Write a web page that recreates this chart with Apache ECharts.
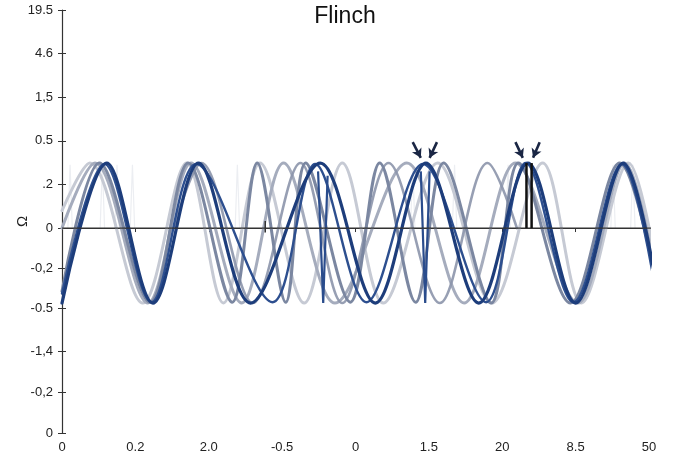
<!DOCTYPE html>
<html><head><meta charset="utf-8">
<script src="https://cdn.jsdelivr.net/npm/echarts@6/dist/echarts.min.js"></script>
<style>html,body{margin:0;padding:0;background:#fff}#c{width:690px;height:460px}</style>
</head><body><div id="c"></div>
<script>
const titleText = 'Flinch';
const yName = 'Ω';
const xLabels = ['0','0.2','2.0','-0.5','0','1.5','20','8.5','50'];
const yTickPos = [-4.7,-3.76,-2.82,-1.84,-0.92,0,1,2,3,4,5];
const yLabels = ['0','-0,2','-1,4','-0.5','-0,2','0','.2','0.5','1,5','4.6','19.5'];

// peaks / troughs
const darkA = [[0,-1.72],[0.61,1.49],[1.24,-1.72],[1.86,1.49],[2.57,-1.72],[3.52,1.49],[4.27,-1.72],[4.96,1.49],[5.68,-1.72],[6.35,1.49],[7.0,-1.72],[7.65,1.49],[8.1,-1.31]];
const darkB = [[0,-1.5],[0.58,1.47],[1.22,-1.7],[1.83,1.47],[2.87,-1.7],[3.45,1.47],[4.15,-1.7],[4.92,1.47],[5.78,-1.7],[6.32,1.49],[6.97,-1.7],[7.63,1.47],[8.08,-1.35]];
const slateC = [[0,-1.45],[0.51,1.49],[1.2,-1.7],[1.72,1.49],[2.32,-1.7],[2.66,1.49],[3.05,-1.7],[3.32,1.49],[3.93,-1.7],[4.33,1.49],[4.82,-1.7],[5.2,1.49],[5.85,-1.72],[6.22,1.49],[6.93,-1.72],[7.6,1.49],[8.1,-1.25]];
const grayD = [[0,0],[0.45,1.49],[1.17,-1.72],[1.76,1.49],[2.45,-1.72],[3.02,1.49],[3.72,-1.72],[4.7,1.49],[5.48,-1.72],[6.18,1.49],[7.03,-1.72],[7.67,1.49],[8.1,-1.2]];
const lightE = [[0,0.4],[0.38,1.49],[1.1,-1.72],[1.7,1.49],[2.2,-1.72],[2.7,1.49],[3.3,-1.72],[3.82,1.49],[4.38,-1.72],[5.12,1.49],[5.86,-1.72],[6.55,1.49],[7.08,-1.72],[7.72,1.49],[8.1,-0.9]];
const slateF = [[1.52,0],[1.9,1.49],[2.6,-1.72],[3.25,1.49],[3.82,-1.72],[4.45,1.49],[5.15,-1.72],[5.8,1.49],[6.2,0]];
const faintSpikes = [
  [[0.08,0],[0.11,1.45],[0.14,0]],
  [[0.52,0],[0.55,1.45],[0.58,0]],
  [[0.72,0],[0.75,1.45],[0.78,0]],
  [[0.93,0],[0.96,1.45],[0.99,0]],
  [[2.36,0],[2.39,1.45],[2.42,0]],
  [[4.75,0],[4.78,1.45],[4.81,0]],
  [[5.32,0],[5.35,1.45],[5.38,0]],
  [[6.05,0],[6.08,1.45],[6.11,0]],
  [[7.48,0],[7.51,1.45],[7.54,0]],
  [[7.75,0],[7.78,1.45],[7.81,0]]
];
const darkSpikes = [
  [[3.49,1.3],[3.56,-1.72],[3.62,1.2]],
  [[4.89,1.3],[4.95,-1.72],[5.01,1.3]]
];
const blackBars = [
  [[6.33,0],[6.33,1.49]],
  [[6.40,0],[6.40,1.49]]
];
const smallTick = [[2.77,0.16],[2.77,-0.1]];
const zeroLine = [[0,0],[8.1,0]];
const zeroTail = [[8.1,0],[8.28,0]];
const arrowStarts = [[4.78,1.97],[5.11,1.97],[6.18,1.97],[6.51,1.97]];
const arrowEnds = [[4.89,1.61],[5.01,1.61],[6.28,1.61],[6.42,1.61]];

const FONT = 'Liberation Sans, Arial, sans-serif';
function curve(data, color, width, z, opacity){
  return {type:'line', data, smooth:0.34, showSymbol:false, symbol:'none', clip:false, z,
    lineStyle:{color, width, opacity: opacity==null?1:opacity, cap:'round'}, silent:true};
}
function seg(data, color, width, z){
  return {type:'line', data, smooth:false, showSymbol:false, symbol:'none', clip:false, z,
    lineStyle:{color, width}, silent:true};
}
const series = [];
faintSpikes.forEach(d => series.push(seg(d, '#eceef2', 1.2, 1)));
series.push(curve(lightE, '#c6cad4', 3, 2));
series.push(curve(grayD, '#a5acbd', 3, 3));
series.push(curve(slateF, '#8c95ab', 2.6, 4, 0.9));
series.push(curve(slateC, '#7b87a1', 3, 5));
series.push(curve(darkB, '#2d4f8f', 2.4, 6));
darkSpikes.forEach(d => series.push(seg(d, '#2a4c8c', 2.2, 6)));
series.push(curve(darkA, '#1d3d7b', 3.2, 7));
const zl = seg(zeroLine, '#333333', 1.3, 8);
zl.markLine = {silent:true, symbol:['none','arrow'], symbolSize:[8,9], animation:false, z:10,
  label:{show:false}, lineStyle:{color:'#1a2644', width:2.6, type:'solid'},
  data: arrowStarts.map((s,i)=>[{coord:s},{coord:arrowEnds[i]}])};
series.push(zl);
series.push(seg(zeroTail, '#bbbbbb', 1.3, 8));
series.push(seg(smallTick, '#333333', 1.5, 9));
blackBars.forEach(d => series.push(seg(d, '#111111', 2.5, 9)));

const chart = echarts.init(document.getElementById('c'), null, {renderer:'canvas'});
chart.setOption({
  animation:false,
  backgroundColor:'#ffffff',
  title:{text:titleText, left:'center', top:0, textStyle:{fontFamily:FONT, fontSize:23, fontWeight:'normal', color:'#111'}},
  grid:{left:62, right:41, top:10, bottom:27, containLabel:false, outerBoundsMode:'none'},
  xAxis:{type:'value', min:0, max:8, interval:1,
    axisLine:{lineStyle:{color:'#333', width:1.2}},
    axisTick:{length:4, lineStyle:{color:'#333'}},
    axisLabel:{fontFamily:FONT, fontSize:13, color:'#222', margin:8, formatter:v=>xLabels[Math.round(v)]},
    splitLine:{show:false}},
  yAxis:[{type:'value', min:-4.7, max:5, name:yName, nameLocation:'middle', nameGap:32, nameRotate:90,
    nameMoveOverlap:false,
    nameTextStyle:{fontFamily:FONT, fontSize:15, color:'#222'},
    axisLine:{show:true, lineStyle:{color:'#333', width:1.2}},
    axisTick:{show:true, length:4, customValues:yTickPos, lineStyle:{color:'#333'}},
    axisLabel:{fontFamily:FONT, fontSize:13, color:'#222', margin:9, customValues:yTickPos,
      formatter:v=>{const i=yTickPos.findIndex(t=>Math.abs(t-v)<1e-6); return i<0?'':yLabels[i];}},
    splitLine:{show:false}},
   {type:'value', min:-4.7, max:5, position:'left',
    axisLine:{show:false}, axisLabel:{show:false}, splitLine:{show:false},
    axisTick:{show:true, inside:true, length:4, customValues:yTickPos, lineStyle:{color:'#333'}}}],
  series
});
</script></body></html>
